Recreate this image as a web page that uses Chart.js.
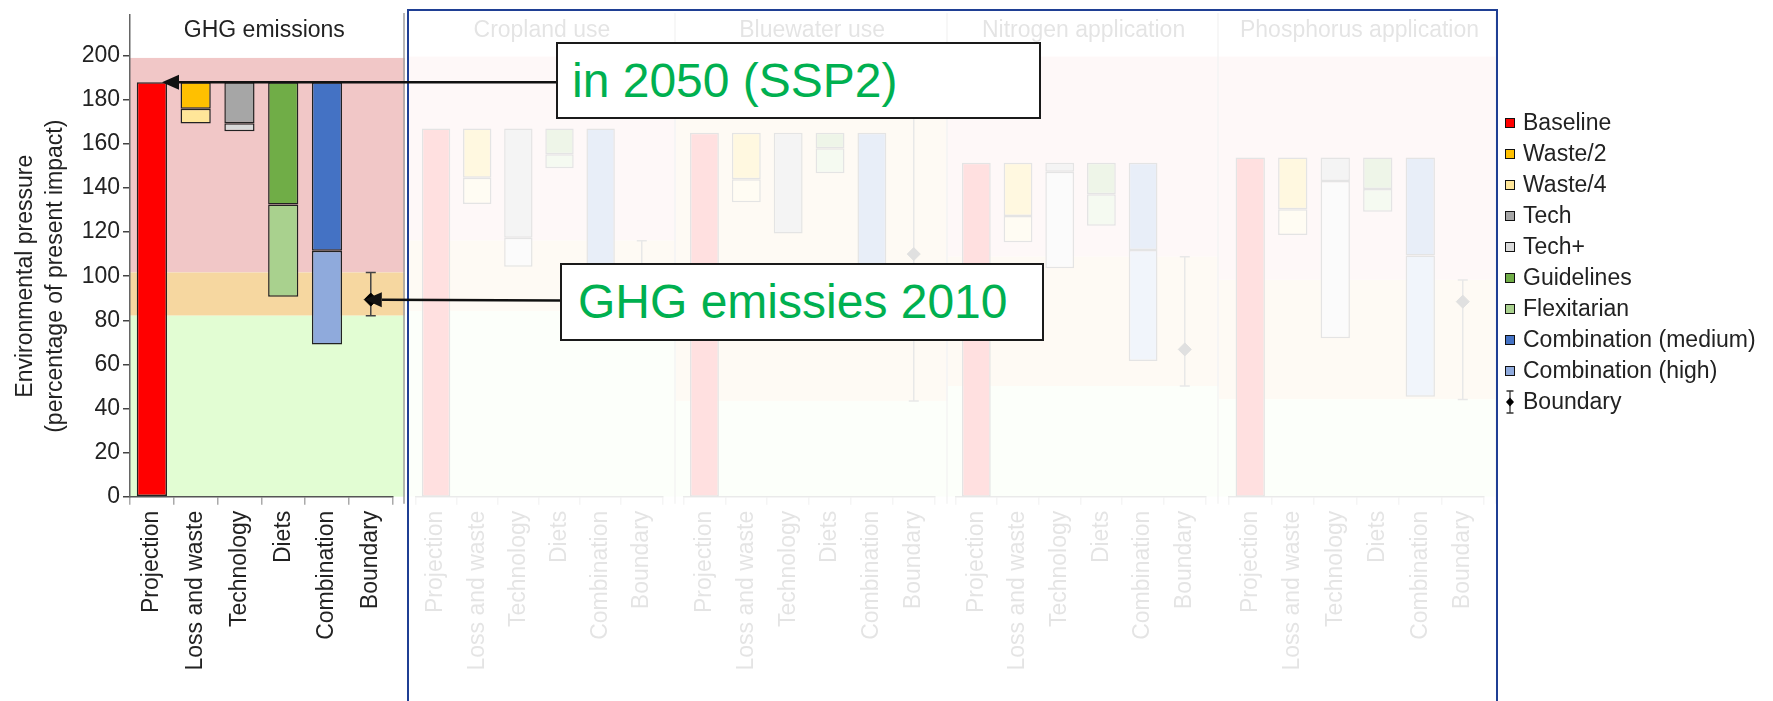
<!DOCTYPE html>
<html>
<head>
<meta charset="utf-8">
<script src="https://cdn.jsdelivr.net/npm/chart.js@4.4.1/dist/chart.umd.min.js"></script>
<style>
  html, body { margin: 0; padding: 0; background: #fff; }
  body { width: 1773px; height: 701px; position: relative; overflow: hidden;
         font-family: "Liberation Sans", Arial, Helvetica, sans-serif; }
  .panel { position: absolute; top: 0; }
  #fade { position: absolute; left: 407px; top: 9px; width: 1091px; height: 720px; box-sizing: border-box;
          border: 2.5px solid #1f3f94; background: rgba(255,255,255,0.88); }
  #arrows { position: absolute; left: 0; top: 0; }
  .note { position: absolute; box-sizing: border-box; border: 2.5px solid #1a1a1a; background: #fff;
          color: #00b050; font-size: 48px; line-height: 48px; display: flex; align-items: center; white-space: nowrap; }
  #legend { position: absolute; left: 1505px; top: 0; font-size: 23px; color: #222; }
  .lg { position: absolute; left: 0; height: 30px; display: flex; align-items: center; white-space: nowrap; }
  .sw { width: 8px; height: 8px; border: 1px solid #111; margin-right: 8px; }
</style>
</head>
<body>
<div id="panels"></div>
<div id="fade"></div>
<canvas id="arrows" width="1773" height="701"></canvas>
<div class="note" style="left:556px;top:42px;width:485px;height:77px;padding-left:14px">in 2050 (SSP2)</div>
<div class="note" style="left:560px;top:263px;width:484px;height:78px;padding-left:16px">GHG emissies 2010</div>
<div id="legend"></div>

<script>
// ── Data ───────────────────────────────────────────────────────
const panelNames = ['GHG emissions', 'Cropland use', 'Bluewater use', 'Nitrogen application', 'Phosphorus application'];
const categories = ['Projection', 'Loss and waste', 'Technology', 'Diets', 'Combination', 'Boundary'];

// one value per panel, in percent of present impact
const baseline     = [188, 166.5, 164.6, 151, 153.4];
const waste2       = [176, 144.2, 143.5, 126.9, 130];
const waste4       = [169.3, 132.3, 133.1, 115, 118.3];
const tech         = [169.4, 117.1, 119, 146.9, 142.7];
const techPlus     = [165.8, 104, 119, 103.3, 71.6];
const guidelines   = [132.5, 154.8, 157.5, 136.7, 139.1];
const flexitarian  = [90.7, 148.5, 146.2, 122.5, 128.8];
const combMedium   = [111.5, 92, 95.7, 111.5, 109];
const combHigh     = [69, 70.5, 82.1, 61.3, 45.2];
const boundary     = [89.4, 99.8, 109.7, 66.6, 88.2];
const boundaryLow  = [82.1, 84, 43.3, 50, 44];
const boundaryHigh = [101.7, 115.7, 176.3, 108.5, 98];
const bandTop = 199;

const yTickMax = 200, yStep = 20, yMax = 218.7;

const seriesNames  = ['Baseline', 'Waste/2', 'Waste/4', 'Tech', 'Tech+', 'Guidelines', 'Flexitarian',
                      'Combination (medium)', 'Combination (high)', 'Boundary'];
const seriesColors = ['#ff0000', '#ffc000', '#ffe699', '#a6a6a6', '#d9d9d9', '#70ad47', '#a9d18e',
                      '#4472c4', '#8faadc', '#000000'];

// panel geometry: [panelLeft, panelRight, plotLeft, plotRight]
const layoutPx = [[0, 405, 130, 405], [408, 676, 409, 674], [676, 948, 681, 948], [948, 1219, 955, 1219], [1219, 1497, 1229, 1492]];
const axisY = 496.7, plotTop = 13;

const FONT = '"Liberation Sans", Arial, Helvetica, sans-serif';
Chart.defaults.font.family = FONT;

// ── Plugins ────────────────────────────────────────────────────
const panelDeco = {
  id: 'panelDeco',
  beforeDraw(chart, args, opts) {
    const { ctx, chartArea: a, scales: { y } } = chart;
    const p = opts.panel;
    const x0 = p === 0 ? a.left : 0, x1 = chart.width;
    const yT = y.getPixelForValue(bandTop), yH = y.getPixelForValue(boundaryHigh[p]);
    const yL = y.getPixelForValue(boundaryLow[p]), y0 = y.getPixelForValue(0);
    ctx.save();
    ctx.fillStyle = '#f1c7c7'; ctx.fillRect(x0, yT, x1 - x0, yH - yT);
    ctx.fillStyle = '#f6d7a0'; ctx.fillRect(x0, yH, x1 - x0, yL - yH);
    ctx.fillStyle = '#e2fdd3'; ctx.fillRect(x0, yL, x1 - x0, y0 - yL);
    // separator on the right side of the panel
    ctx.strokeStyle = '#a0a0a0'; ctx.lineWidth = 1.5;
    ctx.beginPath(); ctx.moveTo(x1 - 1, plotTop); ctx.lineTo(x1 - 1, a.bottom + 7); ctx.stroke();
    // panel title
    ctx.fillStyle = '#222'; ctx.font = '23px ' + FONT;
    ctx.textAlign = 'center'; ctx.textBaseline = 'middle';
    ctx.fillText(panelNames[p], (a.left + a.right) / 2 + 3, 31);
    ctx.restore();
  },
  beforeDatasetsDraw(chart, args, opts) {
    const { ctx, scales: { x, y } } = chart;
    const p = opts.panel;
    const bx = x.getPixelForValue(5);
    const yH = y.getPixelForValue(boundaryHigh[p]), yL = y.getPixelForValue(boundaryLow[p]);
    ctx.save();
    ctx.strokeStyle = '#444'; ctx.lineWidth = 1.5;
    ctx.beginPath();
    ctx.moveTo(bx, yH); ctx.lineTo(bx, yL);
    ctx.moveTo(bx - 5, yH); ctx.lineTo(bx + 5, yH);
    ctx.moveTo(bx - 5, yL); ctx.lineTo(bx + 5, yL);
    ctx.stroke();
    ctx.restore();
  },
  afterDraw(chart, args, opts) {
    if (opts.panel !== 0) return;
    const { ctx, scales: { y } } = chart;
    const mid = y.getPixelForValue(100);
    ctx.save();
    ctx.fillStyle = '#222'; ctx.font = '23px ' + FONT;
    ctx.textAlign = 'center'; ctx.textBaseline = 'middle';
    ctx.translate(0, mid); ctx.rotate(-Math.PI / 2);
    ctx.fillText('Environmental pressure', 0, 26);
    ctx.fillText('(percentage of present impact)', 0, 56);
    ctx.restore();
  }
};

// ── Build panels ───────────────────────────────────────────────
function floating(cat, lo, hi) {
  const d = categories.map(() => null);
  d[cat] = [lo, hi];
  return d;
}

function bar(s, data) {
  return {
    label: seriesNames[s], data,
    backgroundColor: seriesColors[s], borderColor: '#222', borderWidth: 1.5,
    borderSkipped: false, grouped: false, categoryPercentage: 1, barPercentage: 0.69
  };
}

const charts = panelNames.map((name, p) => {
  const [pl, pr, al, ar] = layoutPx[p];
  const w = pr - pl;
  const holder = document.createElement('div');
  holder.className = 'panel';
  holder.style.left = pl + 'px';
  const cv = document.createElement('canvas');
  cv.width = w; cv.height = 701;
  holder.appendChild(cv);
  document.getElementById('panels').appendChild(holder);

  const datasets = [
    bar(0, floating(0, 0, baseline[p])),
    bar(1, floating(1, waste2[p], baseline[p])),
    bar(2, floating(1, waste4[p], waste2[p])),
    bar(3, floating(2, tech[p], baseline[p])),
    bar(4, floating(2, techPlus[p], tech[p])),
    bar(5, floating(3, guidelines[p], baseline[p])),
    bar(6, floating(3, flexitarian[p], guidelines[p])),
    bar(7, floating(4, combMedium[p], baseline[p])),
    bar(8, floating(4, combHigh[p], combMedium[p])),
    {
      type: 'line', label: seriesNames[9],
      data: categories.map((c, i) => i === 5 ? boundary[p] : null),
      showLine: false, pointStyle: 'rectRot', pointRadius: 6.5,
      backgroundColor: '#000', borderColor: '#000'
    }
  ];

  return new Chart(cv, {
    type: 'bar',
    data: { labels: categories, datasets },
    plugins: [panelDeco],
    options: {
      responsive: false, animation: false,
      layout: { padding: { left: p === 0 ? 0 : al - pl, right: pr - ar, top: plotTop, bottom: 0 } },
      plugins: { legend: { display: false }, tooltip: { enabled: false }, panelDeco: { panel: p } },
      scales: {
        x: {
          afterFit: s => { s.height = 701 - axisY; },
          ticks: { color: '#222', font: { size: 23 }, minRotation: 90, maxRotation: 90, autoSkip: false, padding: 6 },
          grid: { drawOnChartArea: false, tickLength: 8, color: '#aaa', lineWidth: 1.5 },
          border: { color: '#555', width: 1.5 }
        },
        y: {
          display: p === 0, min: 0, max: yMax,
          afterBuildTicks: s => { s.ticks = s.ticks.filter(t => t.value <= yTickMax); },
          afterFit: s => { if (p === 0) s.width = al; },
          ticks: { stepSize: yStep, color: '#222', font: { size: 23, lineHeight: 1 }, padding: 3 },
          grid: { drawOnChartArea: false, tickLength: 7, color: '#444', lineWidth: 1.5 },
          border: { color: '#666', width: 1.5 }
        }
      }
    }
  });
});

// ── Arrows from the notes ──────────────────────────────────────
function arrow(ctx, x0, y0, x1, y1) {
  const ang = Math.atan2(y1 - y0, x1 - x0), len = 17, half = 7.5;
  ctx.beginPath(); ctx.moveTo(x0, y0);
  ctx.lineTo(x1 - Math.cos(ang) * len, y1 - Math.sin(ang) * len); ctx.stroke();
  ctx.beginPath(); ctx.moveTo(x1, y1);
  ctx.lineTo(x1 - Math.cos(ang) * len - Math.sin(ang) * half, y1 - Math.sin(ang) * len + Math.cos(ang) * half);
  ctx.lineTo(x1 - Math.cos(ang) * len + Math.sin(ang) * half, y1 - Math.sin(ang) * len - Math.cos(ang) * half);
  ctx.closePath(); ctx.fill();
}

const actx = document.getElementById('arrows').getContext('2d');
actx.strokeStyle = '#111'; actx.fillStyle = '#111'; actx.lineWidth = 2.5;
const projBar = charts[0].getDatasetMeta(0).data[0];
const bPoint = charts[0].getDatasetMeta(9).data[5];
arrow(actx, 556, projBar.y, projBar.x + projBar.width / 2 - 5, projBar.y);
arrow(actx, 560, bPoint.y + 1, bPoint.x - 6, bPoint.y);

// ── Legend ─────────────────────────────────────────────────────
const legend = document.getElementById('legend');
seriesNames.forEach((name, i) => {
  const row = document.createElement('div');
  row.className = 'lg';
  row.style.top = (122.7 + 31 * i - 15) + 'px';
  if (i < 9) {
    row.innerHTML = `<span class="sw" style="background:${seriesColors[i]}"></span><span>${name}</span>`;
  } else {
    row.innerHTML = `<svg width="10" height="24" style="margin-right:8px"><path d="M5 1V23M1.5 1H8.5M1.5 23H8.5" stroke="#333" stroke-width="1.3" fill="none"/><path d="M5 7.5L9 12L5 16.5L1 12Z" fill="#000"/></svg><span>${name}</span>`;
  }
  legend.appendChild(row);
});
</script>
</body>
</html>
